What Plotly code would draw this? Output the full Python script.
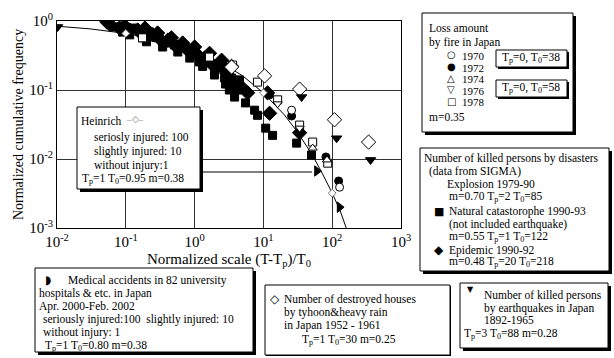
import plotly.graph_objects as go

# ---------------- data ----------------
fit_x = [0.01, 0.03, 0.1, 0.3, 1, 2, 3, 5, 10, 20, 30, 50, 70, 100, 130, 160]
fit_y = [0.84, 0.77, 0.66, 0.53, 0.37, 0.27, 0.22, 0.16, 0.091, 0.044, 0.026, 0.012, 0.0065, 0.0032, 0.0018, 0.001]

heinrich_x = [0.1, 10, 100]
heinrich_y = [0.66, 0.091, 0.0032]

epidemic_x = [0.053, 0.058, 0.081, 0.096, 0.114, 0.149, 0.19, 0.19, 0.245, 0.29, 0.343, 0.41,
              0.46, 0.55, 0.67, 0.79, 1.0, 1.0, 1.18, 1.40, 1.65, 1.83, 2.31, 2.47, 2.92, 3.0,
              3.45, 3.81, 4.82, 5.9, 11.5, 12.3, 33.6]
epidemic_y = [0.97, 0.905, 0.79, 0.85, 0.74, 0.74, 0.67, 0.79, 0.63, 0.67, 0.50, 0.53,
              0.57, 0.42, 0.48, 0.38, 0.355, 0.42, 0.30, 0.29, 0.34, 0.23, 0.246, 0.27, 0.176, 0.195,
              0.22, 0.126, 0.110, 0.091, 0.091, 0.046, 0.024]

natural_x = [0.069, 0.090, 0.114, 0.134, 0.175, 0.20, 0.222, 0.29, 0.343, 0.43, 0.51, 0.57, 0.67,
             0.85, 0.94, 1.18, 1.31, 1.49, 1.95, 1.95, 2.31, 2.73, 2.82, 3.2, 3.45, 3.81, 4.2, 4.5,
             5.5, 7.45, 8.2, 10.8, 13.6, 30.4, 50]
natural_y = [0.82, 0.69, 0.63, 0.79, 0.57, 0.50, 0.69, 0.57, 0.42, 0.48, 0.45, 0.355, 0.41,
             0.29, 0.34, 0.255, 0.22, 0.255, 0.195, 0.165, 0.21, 0.149, 0.122, 0.10, 0.149, 0.079, 0.10, 0.14,
             0.065, 0.051, 0.043, 0.028, 0.022, 0.017, 0.0114]

fire1970_x = [25.7, 128]
fire1970_y = [0.051, 0.0039]
fire1972_x = [12.3, 25.7, 81, 124]
fire1972_y = [0.085, 0.042, 0.0107, 0.0048]
fire1974_x = [52, 84]
fire1974_y = [0.0144, 0.0097]
fire1976_x = [16.1, 33.6]
fire1976_y = [0.063, 0.028]
fire1978_x = [0.175, 1.65, 3.57, 8.2, 16.1, 33.6, 52, 86]
fire1978_y = [0.57, 0.30, 0.23, 0.13, 0.072, 0.031, 0.0176, 0.0087]

typhoon_x = [3.45, 10.4, 33.6, 108, 338]
typhoon_y = [0.215, 0.16, 0.103, 0.037, 0.0176]

quake_x = [0.0102, 35.9, 116, 361]
quake_y = [0.82, 0.079, 0.020, 0.0097]

medical_x = [60, 128]
medical_y = [0.0067, 0.0020]

x_tickvals = [0.01, 0.1, 1, 10, 100, 1000]
x_ticktext = ["10<sup>-2</sup>", "10<sup>-1</sup>", "10<sup>0</sup>", "10<sup>1</sup>", "10<sup>2</sup>", "10<sup>3</sup>"]
y_tickvals = [0.001, 0.01, 0.1, 1]
y_ticktext = ["10<sup>-3</sup>", "10<sup>-2</sup>", "10<sup>-1</sup>", "10<sup>0</sup>"]

# ---------------- layout helpers (pixel -> paper) ----------------
W, H = 614, 358
L, R, T, B = 57, 401, 21, 228
FONT = "Liberation Serif"
FS = 11.5


def px(x):
    return (x - L) / (R - L)


def py(y):
    return (B - y) / (B - T)


fig = go.Figure()

fig.add_trace(go.Scatter(x=fit_x, y=fit_y, mode="lines", line=dict(color="black", width=1),
                         hoverinfo="skip", showlegend=False))


def sc(x, y, symbol, size, fill, lw=1):
    fig.add_trace(go.Scatter(x=x, y=y, mode="markers", showlegend=False,
                             marker=dict(symbol=symbol, size=size, color=fill,
                                         line=dict(color="black", width=lw))))


sc(natural_x, natural_y, "square", 8, "black")
sc(epidemic_x, epidemic_y, "diamond", 11, "black")
sc(fire1972_x, fire1972_y, "circle", 8, "black")
sc(fire1978_x, fire1978_y, "square", 8, "white")
sc(fire1970_x, fire1970_y, "circle", 8, "white")
sc(fire1974_x, fire1974_y, "triangle-up", 8, "white")
sc(fire1976_x, fire1976_y, "triangle-down", 8, "white")
sc(typhoon_x, typhoon_y, "diamond", 11, "white")
sc(quake_x, quake_y, "triangle-down", 9, "black")
sc(medical_x, medical_y, "triangle-right", 9, "black")
fig.add_trace(go.Scatter(x=heinrich_x, y=heinrich_y, mode="markers", showlegend=False,
                         marker=dict(symbol="diamond", size=6, color="white",
                                     line=dict(color="#777777", width=1))))

shapes = []
annotations = []


def box(l, t, r, b, sh=3):
    if sh > 0:
        shapes.append(dict(type="rect", xref="paper", yref="paper", layer="above",
                           x0=px(l + sh), x1=px(r + sh), y0=py(b + sh), y1=py(t + sh),
                           fillcolor="black", line=dict(width=0)))
    shapes.append(dict(type="rect", xref="paper", yref="paper", layer="above",
                       x0=px(l), x1=px(r), y0=py(b), y1=py(t),
                       fillcolor="white", line=dict(color="black", width=1)))


def txt(x, y, s, size=FS, color="black", family=FONT):
    annotations.append(dict(xref="paper", yref="paper", x=px(x), y=py(y), text=s,
                            showarrow=False, xanchor="left", yanchor="middle",
                            font=dict(family=family, size=size, color=color)))


# pointer line from the Heinrich box to the medical-accident point
shapes.append(dict(type="line", xref="paper", yref="paper", layer="above",
                   x0=px(200), x1=px(312), y0=py(172), y1=py(172),
                   line=dict(color="black", width=1)))

# Heinrich box
box(77, 107, 200, 189)
txt(79, 121, "Heinrich")
txt(124, 119, "–◇–", size=9, color="#777777")
txt(92, 137, "seriosly injured: 100")
txt(92, 151, "slightly injured: 10")
txt(92, 165, "without injury:1")
txt(80, 179, "T<sub>p</sub>=1 T<sub>0</sub>=0.95 m=0.38")

# Loss amount box
box(422, 13, 573, 132)
txt(427, 28, "Loss amount")
txt(427, 42, "by fire in Japan")
for i, (sym, yr) in enumerate([("○", "1970"), ("●", "1972"), ("△", "1974"), ("▽", "1976"), ("□", "1978")]):
    yy = 55 + i * 11.6
    txt(445, yy, sym, size=10, family="DejaVu Sans")
    txt(460, yy + 1, yr, size=11)
txt(427, 117, "m=0.35")
box(496, 50, 567, 67, sh=2)
txt(500, 58, "T<sub>p</sub>=0, T<sub>0</sub>=38")
box(496, 80, 567, 97, sh=2)
txt(500, 88, "T<sub>p</sub>=0, T<sub>0</sub>=58")

# SIGMA box
box(420, 148, 609, 271)
txt(422, 158, "Number of killed persons by disasters")
txt(427, 171, "(data from SIGMA)")
txt(445, 184, "Explosion 1979-90")
txt(447, 197, "m=0.70 T<sub>p</sub>=2 T<sub>0</sub>=85")
txt(432, 211, "■", size=11, family="DejaVu Sans")
txt(447, 211, "Natural catastorophe 1990-93")
txt(447, 224, "(not included earthquake)")
txt(447, 237, "m=0.55 T<sub>p</sub>=1 T<sub>0</sub>=122")
txt(432, 250, "◆", size=12, family="DejaVu Sans")
txt(447, 250, "Epidemic 1990-92")
txt(447, 262, "m=0.48 T<sub>p</sub>=20 T<sub>0</sub>=218")

# Medical box
box(35, 268, 253, 352)
txt(43, 280, "◗", size=12, family="DejaVu Sans")
txt(66, 280, "Medical accidents in 82 university")
txt(37, 293, "hospitals &amp; etc. in Japan")
txt(37, 306, "Apr. 2000-Feb. 2002")
txt(41, 319, "seriously injured:100  slightly injured: 10")
txt(41, 332, "without injury: 1")
txt(43, 346, "T<sub>p</sub>=1 T<sub>0</sub>=0.80 m=0.38")

# Typhoon box
box(265, 285, 450, 355, sh=1)
txt(268, 299, "◇", size=12, family="DejaVu Sans")
txt(282, 299, "Number of destroyed houses")
txt(282, 312, "by tyhoon&amp;heavy rain")
txt(282, 325, "in Japan 1952 - 1961")
txt(300, 340, "T<sub>p</sub>=1 T<sub>0</sub>=30 m=0.25")

# Earthquake box
box(460, 283, 608, 348)
txt(465, 289, "▼", size=8, family="DejaVu Sans")
txt(482, 295, "Number of killed persons")
txt(482, 308, "by earthquakes in Japan")
txt(482, 320, "1892-1965")
txt(462, 334, "T<sub>p</sub>=3 T<sub>0</sub>=88 m=0.28")

fig.update_layout(
    width=W, height=H, autosize=False,
    margin=dict(l=L, r=W - R, t=T, b=H - B, pad=0),
    paper_bgcolor="white", plot_bgcolor="white",
    font=dict(family=FONT, color="black"),
    shapes=shapes, annotations=annotations,
    xaxis=dict(type="log", range=[-2, 3], tickvals=x_tickvals, ticktext=x_ticktext,
               showgrid=True, gridcolor="#333333", gridwidth=1, zeroline=False,
               showline=True, linecolor="black", linewidth=1, mirror=True, ticks="",
               tickfont=dict(family=FONT, size=15),
               title=dict(text="Normalized scale (T-T<sub>p</sub>)/T<sub>0</sub>",
                          font=dict(family=FONT, size=15), standoff=4)),
    yaxis=dict(type="log", range=[-3, 0], tickvals=y_tickvals, ticktext=y_ticktext,
               showgrid=True, gridcolor="#333333", gridwidth=1, zeroline=False,
               showline=True, linecolor="black", linewidth=1, mirror=True, ticks="",
               tickfont=dict(family=FONT, size=15),
               title=dict(text="Normalized cumulative frequency",
                          font=dict(family=FONT, size=14), standoff=2)),
)

fig.write_html("out.html")
